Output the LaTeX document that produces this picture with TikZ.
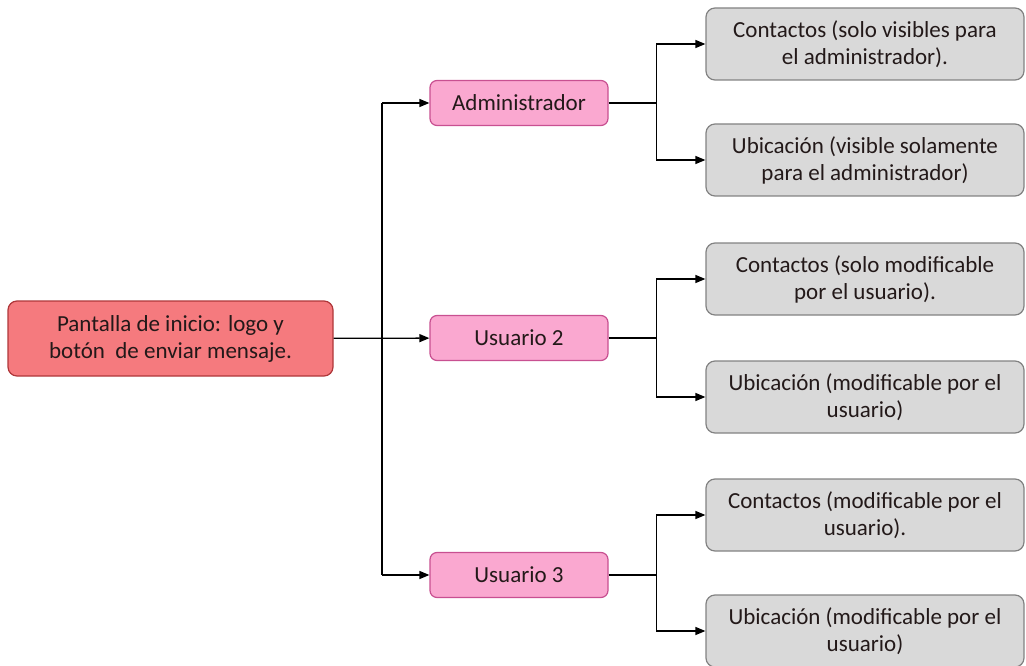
\documentclass[tikz,border=0pt]{standalone}
\usepackage{fontspec}
\setmainfont{Carlito}
\usetikzlibrary{arrows.meta}
\definecolor{rootfill}{RGB}{245,122,126}
\definecolor{rootline}{RGB}{175,55,58}
\definecolor{userfill}{RGB}{250,168,208}
\definecolor{userline}{RGB}{200,80,145}
\definecolor{itemfill}{RGB}{217,217,217}
\definecolor{itemline}{RGB}{130,130,130}
\definecolor{txt}{RGB}{35,25,25}
\begin{document}
\begin{tikzpicture}[x=1pt,y=-1pt,
    every node/.style={font=\fontsize{23}{27}\selectfont, text=txt, align=center},
    rootbox/.style={draw=rootline, fill=rootfill, line width=1.2pt, rounded corners=9pt, minimum width=325pt, minimum height=75pt},
    userbox/.style={draw=userline, fill=userfill, line width=1.2pt, rounded corners=7pt, minimum width=178pt, minimum height=45pt},
    itembox/.style={draw=itemline, fill=itemfill, line width=1.2pt, rounded corners=9pt, minimum width=318pt, minimum height=72pt},
    link/.style={line width=1.3pt, -{Triangle[length=10pt,width=8pt]}}]
            \useasboundingbox (0,0) rectangle (1026,666);
            \node[rootbox] (inicio) at (170.5,338.5) {Pantalla de inicio: logo y\\bot\'on\ \ de enviar mensaje.};
            \node[userbox] (admin) at (519,103) {Administrador};
            \node[userbox] (user2) at (519,338) {Usuario 2};
            \node[userbox] (user3) at (519,575) {Usuario 3};

            \node[itembox] (contA) at (865,44) {Contactos (solo visibles para\\el administrador).};
            \node[itembox] (ubicA) at (865,160) {Ubicaci\'on (visible solamente\\para el administrador)};
            \node[itembox] (cont2) at (865,279) {Contactos (solo modificable\\por el usuario).};
            \node[itembox] (ubic2) at (865,397) {Ubicaci\'on (modificable por el\\usuario)};
            \node[itembox] (cont3) at (865,515) {Contactos (modificable por el\\usuario).};
            \node[itembox] (ubic3) at (865,631) {Ubicaci\'on (modificable por el\\usuario)};

            \coordinate (top) at (382,103);
            \coordinate (bot) at (382,575);
            \draw[line width=1.3pt] (top) -- (bot);
            \draw[link] (inicio) -- (user2);
            \draw[link] (top) -- (admin);
            \draw[link] (bot) -- (user3);

            \draw[line width=2.2pt] (admin.east) -- ++(48,0);
            \draw[link] (admin.east) ++(48,0) |- (contA);
            \draw[link] (admin.east) ++(48,0) |- (ubicA);
            \draw[link] (user2.east) -- ++(48,0) |- (cont2);
            \draw[link] (user2.east) ++(48,0) |- (ubic2);
            \draw[link] (user3.east) -- ++(48,0) |- (cont3);
            \draw[link] (user3.east) ++(48,0) |- (ubic3);
\end{tikzpicture}
\end{document}
